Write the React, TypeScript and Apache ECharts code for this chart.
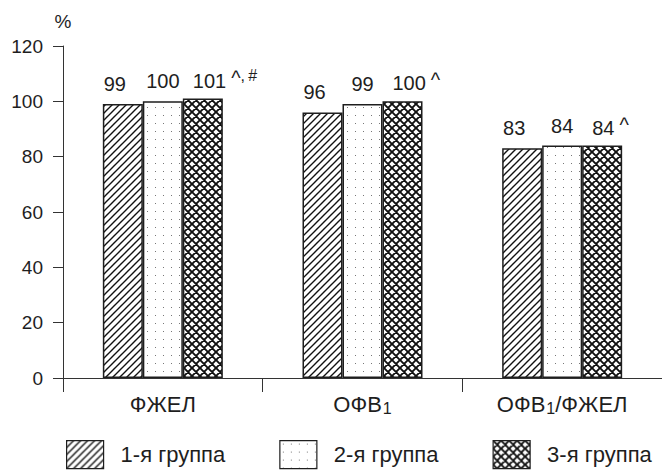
import React, { useEffect, useRef } from 'react';
import * as echarts from 'echarts';

const categories = ['ФЖЕЛ', 'ОФВ1', 'ОФВ1/ФЖЕЛ'];
const seriesNames = ['1-я группа', '2-я группа', '3-я группа'];
const group1 = [99, 96, 83];
const group2 = [100, 99, 84];
const group3 = [101, 100, 84];
const group3Caret = ['^', '^', '^'];
const group3Extra = [',\u2009#', '', ''];
const yMin = 0;
const yMax = 120;
const yStep = 20;

const FONT = '"Liberation Sans", Arial, sans-serif';
const INK = '#1e1e1e';

function makeTile(kind: string): any {
  const size = kind === 'hatch' ? 7 : 8;
  const c = document.createElement('canvas');
  c.width = size;
  c.height = size;
  const ctx = c.getContext('2d')!;
  ctx.fillStyle = '#ffffff';
  ctx.fillRect(0, 0, size, size);
  ctx.strokeStyle = '#111';
  if (kind === 'hatch') {
    ctx.lineWidth = 1.4;
    ctx.beginPath();
    for (let k = -1; k <= 1; k++) {
      ctx.moveTo(-1 + k * size, size + 1);
      ctx.lineTo(size + 1 + k * size, -1);
    }
    ctx.stroke();
  } else if (kind === 'dots') {
    ctx.fillStyle = '#777777';
    ctx.fillRect(3, 3, 1, 1);
  } else {
    ctx.lineWidth = 1.9;
    ctx.beginPath();
    for (let k = -1; k <= 1; k++) {
      ctx.moveTo(-1 + k * size, size + 1);
      ctx.lineTo(size + 1 + k * size, -1);
      ctx.moveTo(-1 + k * size, -1);
      ctx.lineTo(size + 1 + k * size, size + 1);
    }
    ctx.stroke();
  }
  return { image: c, repeat: 'repeat', imageWidth: size, imageHeight: size };
}

export default function App() {
  const ref = useRef<HTMLDivElement>(null);
  useEffect(() => {
    if (!ref.current) return;
    const chart = echarts.init(ref.current, null, { renderer: 'svg' });
    const patterns = [makeTile('hatch'), makeTile('dots'), makeTile('cross')];
    const border = { borderColor: INK, borderWidth: 1.5 };
    const mainLabel = { fontSize: 20, fontFamily: FONT, color: INK };

    const option: any = {
      animation: false,
      textStyle: { fontFamily: FONT },
      grid: { left: 63, top: 46, width: 600, height: 332 },
      legend: {
        data: seriesNames,
        left: 61,
        top: 435,
        itemWidth: 37,
        itemHeight: 28,
        itemGap: 54,
        icon: 'rect',
        itemStyle: { borderColor: INK, borderWidth: 1.2 },
        textStyle: { fontSize: 22, color: INK, fontFamily: FONT, padding: [0, 0, 0, 12] },
      },
      xAxis: {
        type: 'category',
        data: categories,
        axisLine: { lineStyle: { color: '#333', width: 1 } },
        axisTick: { show: true, length: 14, lineStyle: { color: '#333' } },
        axisLabel: {
          margin: 12,
          formatter: (v: string) => {
            const parts = v.split('1');
            return parts.map((p, i) => (p ? `{m|${p}}` : '') + (i < parts.length - 1 ? '{s|1}' : '')).join('');
          },
          rich: {
            m: { fontSize: 22, fontFamily: FONT, color: INK, lineHeight: 28 },
            s: { fontSize: 16, fontFamily: FONT, color: INK, lineHeight: 20, padding: [8, 0, 0, 1] },
          },
        },
      },
      yAxis: {
        type: 'value',
        min: yMin,
        max: yMax,
        interval: yStep,
        name: '%',
        nameLocation: 'end',
        nameGap: 15,
        nameTextStyle: { fontSize: 19, color: INK, fontFamily: FONT, align: 'center', verticalAlign: 'bottom' },
        axisLine: { show: true, lineStyle: { color: '#333', width: 1 } },
        axisTick: { show: true, length: 10, lineStyle: { color: '#333' } },
        splitLine: { show: false },
        axisLabel: { margin: 20, fontSize: 19, color: INK, fontFamily: FONT },
      },
      series: [
        {
          name: seriesNames[0],
          type: 'bar',
          data: group1,
          barWidth: 40,
          barGap: '0%',
          itemStyle: { color: patterns[0], ...border },
          label: { show: true, position: 'top', distance: 10, offset: [-8, 0], ...mainLabel },
        },
        {
          name: seriesNames[1],
          type: 'bar',
          data: group2,
          barWidth: 40,
          barGap: '0%',
          itemStyle: { color: patterns[1], ...border },
          label: { show: true, position: 'top', distance: 10, ...mainLabel },
        },
        {
          name: seriesNames[2],
          type: 'bar',
          data: group3,
          barWidth: 40,
          barGap: '0%',
          itemStyle: { color: patterns[2], ...border },
          label: {
            show: true,
            position: 'top',
            distance: 10,
            align: 'left',
            offset: [-10, 3],
            formatter: (p: any) =>
              `{v|${p.value}}{c|${group3Caret[p.dataIndex]}}` +
              (group3Extra[p.dataIndex] ? `{h|${group3Extra[p.dataIndex]}}` : ''),
            rich: {
              v: { fontSize: 20, fontFamily: FONT, color: INK, lineHeight: 22 },
              c: { fontSize: 20, fontFamily: FONT, color: INK, lineHeight: 22, padding: [0, 0, 6, 5] },
              h: { fontSize: 16, fontFamily: FONT, color: INK, lineHeight: 18, padding: [0, 0, 10, 0] },
            },
          },
        },
      ],
    };
    chart.setOption(option);
    return () => chart.dispose();
  }, []);
  return (
    <div
      ref={ref}
      style={{ position: 'absolute', left: 0, top: 0, width: 662, height: 471, background: '#fff' }}
    />
  );
}
